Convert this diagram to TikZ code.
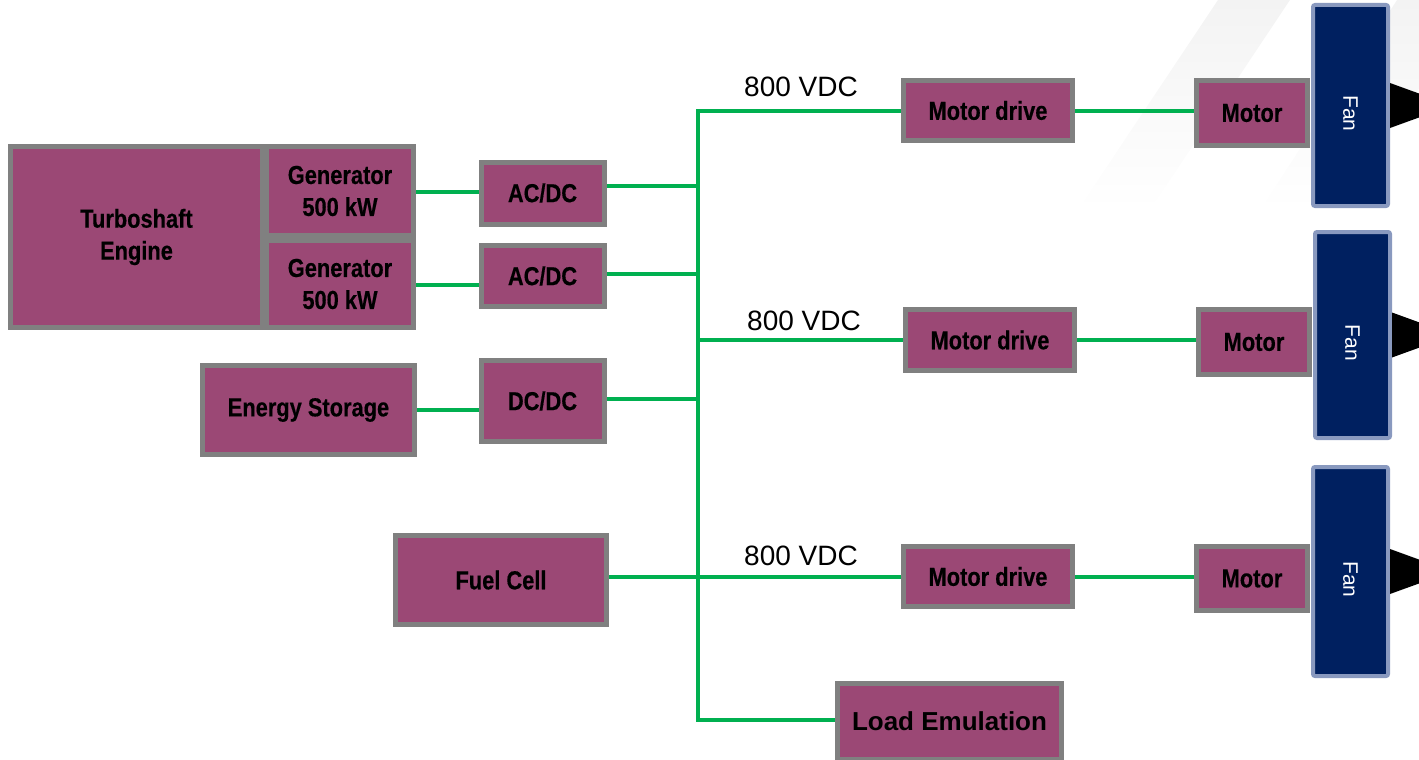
\documentclass[tikz,border=0pt]{standalone}
\usepackage{fontspec}
\usepackage{graphicx}
\setmainfont{Liberation Sans}
\newfontfamily\narrowfont[FakeStretch=0.84,FakeBold=0.4]{Liberation Sans Bold}
\usetikzlibrary{backgrounds,fadings}
\definecolor{boxpurple}{RGB}{155,72,117}
\definecolor{boxgray}{RGB}{128,128,128}
\definecolor{fanblue}{RGB}{0,32,96}
\definecolor{fanedge}{RGB}{137,153,191}
\definecolor{busgreen}{RGB}{0,176,80}
\definecolor{stripe}{RGB}{243,243,243}
\begin{document}
\begin{tikzpicture}[x=1pt,y=-1pt,
  box/.style={draw=boxgray,fill=boxpurple,line width=5pt,inner sep=0pt,align=center,
    font=\narrowfont\fontsize{26}{32}\selectfont},
  loadbox/.style={box,font=\bfseries\fontsize{26}{30}\selectfont},
  fanbox/.style={draw=fanedge,fill=fanblue,line width=4pt,rounded corners=2pt,inner sep=0pt,
    minimum width=75pt,text=white,font=\fontsize{21}{25}\selectfont},
  bus/.style={draw=busgreen,line width=4pt},
  volt/.style={inner sep=0pt,font=\fontsize{28}{32}\selectfont},
  tip/.style={fill=black}]
\useasboundingbox (0,0) rectangle (1419,760);
\clip (0,0) rectangle (1419,760);

% sources
\node[box,minimum width=252pt,minimum height=181pt] (turbo) at (136.5,237) {Turboshaft\\Engine};
\node[box,minimum width=147pt,minimum height=89pt] (gen1) at (340,191) {Generator\\500 kW};
\node[box,minimum width=147pt,minimum height=87pt] (gen2) at (340,284) {Generator\\500 kW};
\node[box,minimum width=212pt,minimum height=89pt] (es) at (308.5,410) {Energy Storage};
\node[box,minimum width=211pt,minimum height=89pt] (fc) at (501,580) {Fuel Cell};
% converters
\node[box,minimum width=123pt,minimum height=62pt] (acdc1) at (542.5,193) {AC/DC};
\node[box,minimum width=123pt,minimum height=61pt] (acdc2) at (542.5,276) {AC/DC};
\node[box,minimum width=123pt,minimum height=81pt] (dcdc) at (542.5,401) {DC/DC};
% motor drives
\node[box,minimum width=169pt,minimum height=60pt] (md1) at (988,110.5) {Motor drive};
\node[box,minimum width=169pt,minimum height=61pt] (md2) at (990,340) {Motor drive};
\node[box,minimum width=169pt,minimum height=60pt] (md3) at (988,576.5) {Motor drive};
% fans
\node[fanbox,minimum height=201pt] (fan1) at (1350.5,105.5) {\rotatebox{-90}{\hspace{16pt}Fan}};
\node[fanbox,minimum height=206pt] (fan2) at (1352.5,335) {\rotatebox{-90}{\hspace{16pt}Fan}};
\node[fanbox,minimum height=209pt] (fan3) at (1350.5,571.5) {\rotatebox{-90}{\hspace{16pt}Fan}};
% motors
\node[box,minimum width=111pt,minimum height=65pt] (m1) at (1252,113) {Motor};
\node[box,minimum width=111pt,minimum height=65pt] (m2) at (1254,342) {Motor};
\node[box,minimum width=111pt,minimum height=64pt] (m3) at (1252,578.5) {Motor};
% load
\node[loadbox,minimum width=224pt,minimum height=76pt] (load) at (949.5,721) {Load Emulation};
% voltage labels
\node[volt] (v1) at (801,87) {800 VDC};
\node[volt] (v2) at (804,321) {800 VDC};
\node[volt] (v3) at (801,556) {800 VDC};
% thrust tips
\fill[tip] (fan1.east) ++(0,-22.5) -- ++(62,22.5) -- ++(-62,22.5) -- cycle;
\fill[tip] (fan2.east) ++(0,-22.5) -- ++(62,22.5) -- ++(-62,22.5) -- cycle;
\fill[tip] (fan3.east) ++(0,-22.5) -- ++(62,22.5) -- ++(-62,22.5) -- cycle;

\coordinate (btop) at (697.5,110.5);
\coordinate (bbot) at (697.5,720);

\begin{pgfonlayer}{background}
\fill[stripe,path fading=south] (1218,0) -- (1290,0) -- (1150,210) -- (1078,210) -- cycle;
\fill[stripe,path fading=south] (1397,0) -- (1440,0) -- (1440,60) -- (1330,210) -- (1260,210) -- cycle;
\draw[bus] (md1.west) -- (btop) -- (bbot) -- (load.west |- bbot);
\draw[bus] ([yshift=-1pt]gen1.east) -- ([yshift=-1pt]gen1.east -| acdc1.west);
\draw[bus] ([yshift=-1pt]gen2.east) -- ([yshift=-1pt]gen2.east -| acdc2.west);
\draw[bus] ([yshift=7pt]acdc1.east) -- ([yshift=7pt]acdc1.east -| btop);
\draw[bus] ([yshift=2pt]acdc2.east) -- ([yshift=2pt]acdc2.east -| btop);
\draw[bus] ([yshift=2pt]dcdc.east) -- ([yshift=2pt]dcdc.east -| btop);
\draw[bus] (es.east) -- (es.east -| dcdc.west);
\draw[bus] (md2.west -| btop) -- (md2.west);
\draw[bus] (fc.east |- md3.west) -- (md3.west);
\draw[bus] (md1.east) -- (md1.east -| m1.west);
\draw[bus] (md2.east) -- (md2.east -| m2.west);
\draw[bus] (md3.east) -- (md3.east -| m3.west);
\end{pgfonlayer}
\end{tikzpicture}
\end{document}
